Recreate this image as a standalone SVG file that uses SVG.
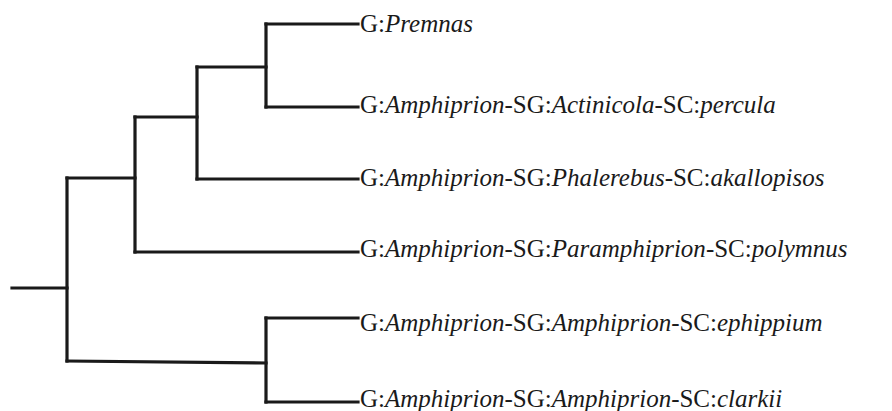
<svg xmlns="http://www.w3.org/2000/svg" width="892" height="411" viewBox="0 0 892 411">
<style>
.e{fill:none;stroke:#1a1a1a;stroke-width:3.2;stroke-linecap:square;stroke-linejoin:miter}
.i{font-style:italic}
</style>
<rect width="892" height="411" fill="#fff"/>
<g id="connectors">
<path class="e" d="M12,288 H67"/>
<path class="e" d="M67,178 V361"/>
<path class="e" d="M67,178 H135"/>
<path class="e" d="M67,361 L266,363"/>
<path class="e" d="M135,117 V252"/>
<path class="e" d="M135,117 H197"/>
<path class="e" d="M135,252 H358"/>
<path class="e" d="M197,67 V179"/>
<path class="e" d="M197,67 H266"/>
<path class="e" d="M197,179 H358"/>
<path class="e" d="M266,24 V107"/>
<path class="e" d="M266,24 H358"/>
<path class="e" d="M266,107 H358"/>
<path class="e" d="M266,318 V402"/>
<path class="e" d="M266,318 H358"/>
<path class="e" d="M266,402 H358"/>
</g>
<g font-family="Liberation Serif, Times New Roman, DejaVu Serif, serif" font-size="25" fill="#1a1a1a">
<g id="leaf-premnas"><text x="360" y="32">G:<tspan class="i">Premnas</tspan></text></g>
<g id="leaf-percula"><text x="360" y="113">G:<tspan class="i">Amphiprion</tspan>-SG:<tspan class="i">Actinicola</tspan>-SC:<tspan class="i">percula</tspan></text></g>
<g id="leaf-akallopisos"><text x="360" y="186">G:<tspan class="i">Amphiprion</tspan>-SG:<tspan class="i">Phalerebus</tspan>-SC:<tspan class="i">akallopisos</tspan></text></g>
<g id="leaf-polymnus"><text x="360" y="257">G:<tspan class="i">Amphiprion</tspan>-SG:<tspan class="i">Paramphiprion</tspan>-SC:<tspan class="i">polymnus</tspan></text></g>
<g id="leaf-ephippium"><text x="360" y="331">G:<tspan class="i">Amphiprion</tspan>-SG:<tspan class="i">Amphiprion</tspan>-SC:<tspan class="i">ephippium</tspan></text></g>
<g id="leaf-clarkii"><text x="360" y="407">G:<tspan class="i">Amphiprion</tspan>-SG:<tspan class="i">Amphiprion</tspan>-SC:<tspan class="i">clarkii</tspan></text></g>
</g>
</svg>
